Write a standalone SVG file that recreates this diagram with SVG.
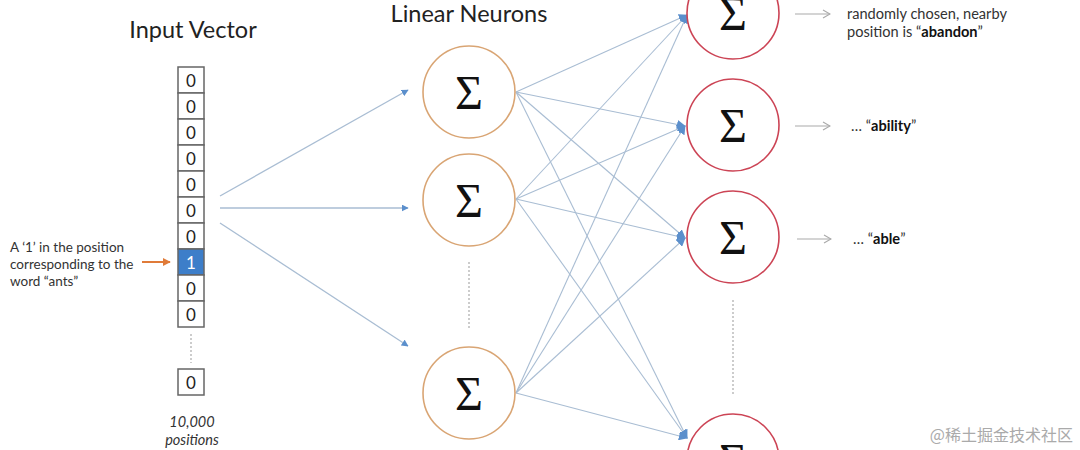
<svg xmlns="http://www.w3.org/2000/svg" width="1080" height="450" viewBox="0 0 1080 450">
<defs>
<marker id="ah" viewBox="0 0 10 10" refX="9" refY="5" markerWidth="7" markerHeight="7" markerUnits="userSpaceOnUse" orient="auto">
<path d="M0,0 L10,5 L0,10 z" fill="#5b8fcc"/>
</marker>
<marker id="ah2" viewBox="0 0 10 10" refX="9" refY="5" markerWidth="9" markerHeight="9" markerUnits="userSpaceOnUse" orient="auto">
<path d="M0,0 L10,5 L0,10 z" fill="#5b8fcc"/>
</marker>
<marker id="ao" viewBox="0 0 10 10" refX="9" refY="5" markerWidth="8" markerHeight="8" markerUnits="userSpaceOnUse" orient="auto">
<path d="M0,0 L10,5 L0,10 z" fill="#e07b39"/>
</marker>
<marker id="ag" viewBox="0 0 10 10" refX="9" refY="5" markerWidth="10" markerHeight="10" markerUnits="userSpaceOnUse" orient="auto">
<path d="M2,1 L9,5 L2,9" fill="none" stroke="#aaaaaa" stroke-width="1.2"/>
</marker>
</defs>
<style>
.t{font-family:Lato,"Liberation Sans",sans-serif;fill:#222}
.title{font-size:23.5px}
.small{font-size:13.5px;fill:#333}
.it{font-size:14.5px;fill:#333;font-style:italic}
.lab{font-size:14.6px;fill:#333}
.cell{fill:#fff;stroke:#666;stroke-width:1.5}
.num{font-family:Lato,"Liberation Sans",sans-serif;font-size:17px;fill:#222;text-anchor:middle}
.sig{font-family:"Liberation Serif","DejaVu Serif",serif;font-size:48px;fill:#111;text-anchor:middle}
.on{fill:#fff;stroke:#d9a574;stroke-width:1.6}
.rn{fill:#fff;stroke:#cc4455;stroke-width:1.6}
.c{stroke:#a9bdd3;stroke-width:1.1;fill:none;marker-end:url(#ah2)}
.ci{stroke:#a9bdd3;stroke-width:1.3;fill:none;marker-end:url(#ah)}
.dot{stroke:#999;stroke-width:1;stroke-dasharray:2,2}
.go{stroke:#aaaaaa;stroke-width:1.2;marker-end:url(#ag)}
</style>
<rect width="1080" height="450" fill="#fff"/>

<text class="t title" x="193" y="38" text-anchor="middle">Input Vector</text>
<text class="t title" x="469" y="22" text-anchor="middle">Linear Neurons</text>

<g id="input-vector">
<rect class="cell" x="178" y="67" width="26" height="26"/><text class="num" x="191" y="87">0</text>
<rect class="cell" x="178" y="93" width="26" height="26"/><text class="num" x="191" y="113">0</text>
<rect class="cell" x="178" y="119" width="26" height="26"/><text class="num" x="191" y="139">0</text>
<rect class="cell" x="178" y="145" width="26" height="26"/><text class="num" x="191" y="165">0</text>
<rect class="cell" x="178" y="171" width="26" height="26"/><text class="num" x="191" y="191">0</text>
<rect class="cell" x="178" y="197" width="26" height="26"/><text class="num" x="191" y="217">0</text>
<rect class="cell" x="178" y="223" width="26" height="26"/><text class="num" x="191" y="243">0</text>
<rect x="178" y="249" width="26" height="26" fill="#3d7ec9" stroke="#666" stroke-width="1.5"/><text class="num" x="191" y="269" style="fill:#fff">1</text>
<rect class="cell" x="178" y="275" width="26" height="26"/><text class="num" x="191" y="295">0</text>
<rect class="cell" x="178" y="301" width="26" height="26"/><text class="num" x="191" y="321">0</text>
<line class="dot" x1="191" y1="334" x2="191" y2="363"/>
<rect class="cell" x="178" y="369" width="26" height="26"/><text class="num" x="191" y="389">0</text>
<text class="t it" x="192" y="427" text-anchor="middle">10,000</text>
<text class="t it" x="192" y="445" text-anchor="middle">positions</text>
</g>

<g id="ants-note">
<text class="t small" x="10" y="252">A ‘1’ in the position</text>
<text class="t small" x="10" y="269">corresponding to the</text>
<text class="t small" x="10" y="286">word “ants”</text>
<line x1="142" y1="262" x2="170" y2="262" stroke="#e07b39" stroke-width="2" marker-end="url(#ao)"/>
</g>

<g id="connectors">
<line class="ci" x1="220" y1="196" x2="408" y2="90"/>
<line class="ci" x1="220" y1="208" x2="408" y2="208"/>
<line class="ci" x1="220" y1="223" x2="408" y2="346"/>

<line class="c" x1="516" y1="92" x2="687" y2="15"/>
<line class="c" x1="516" y1="92" x2="685" y2="126"/>
<line class="c" x1="516" y1="92" x2="685" y2="238"/>
<line class="c" x1="516" y1="92" x2="687" y2="438"/>
<line class="c" x1="516" y1="199" x2="687" y2="15"/>
<line class="c" x1="516" y1="199" x2="685" y2="126"/>
<line class="c" x1="516" y1="199" x2="685" y2="238"/>
<line class="c" x1="516" y1="199" x2="687" y2="438"/>
<line class="c" x1="516" y1="393" x2="687" y2="15"/>
<line class="c" x1="516" y1="393" x2="685" y2="126"/>
<line class="c" x1="516" y1="393" x2="685" y2="238"/>
<line class="c" x1="516" y1="393" x2="687" y2="438"/>

<line class="go" x1="795" y1="14" x2="830" y2="14"/>
<line class="go" x1="795" y1="126" x2="830" y2="126"/>
<line class="go" x1="797" y1="239" x2="831" y2="239"/>
</g>

<g id="linear-1"><circle class="on" cx="469" cy="92" r="46"/><text class="sig" x="469" y="109">Σ</text></g>
<g id="linear-2"><circle class="on" cx="469" cy="200" r="46"/><text class="sig" x="469" y="217">Σ</text></g>
<line class="dot" x1="469" y1="262" x2="469" y2="330"/>
<g id="linear-3"><circle class="on" cx="469" cy="393" r="46"/><text class="sig" x="469" y="410">Σ</text></g>

<g id="out-1"><circle class="rn" cx="733" cy="13" r="46"/><text class="sig" x="733" y="30">Σ</text></g>
<g id="out-2"><circle class="rn" cx="733" cy="125" r="46"/><text class="sig" x="733" y="142">Σ</text></g>
<g id="out-3"><circle class="rn" cx="733" cy="237" r="46"/><text class="sig" x="733" y="254">Σ</text></g>
<line class="dot" x1="733" y1="300" x2="733" y2="395"/>
<g id="out-4"><circle class="rn" cx="733" cy="460" r="46"/><text class="sig" x="733" y="477">Σ</text></g>

<g id="labels">
<text class="t lab" x="847" y="19">randomly chosen, nearby</text>
<text class="t lab" x="847" y="37">position is “<tspan font-weight="bold" fill="#111">abandon</tspan>”</text>
<text class="t lab" x="851" y="131">… “<tspan font-weight="bold" fill="#111">ability</tspan>”</text>
<text class="t lab" x="853" y="244">… “<tspan font-weight="bold" fill="#111">able</tspan>”</text>
</g>

<text x="1073" y="441" text-anchor="end" font-family="'Noto Sans CJK SC',sans-serif" font-size="16" fill="#aaaaaa">@稀土掘金技术社区</text>
</svg>
